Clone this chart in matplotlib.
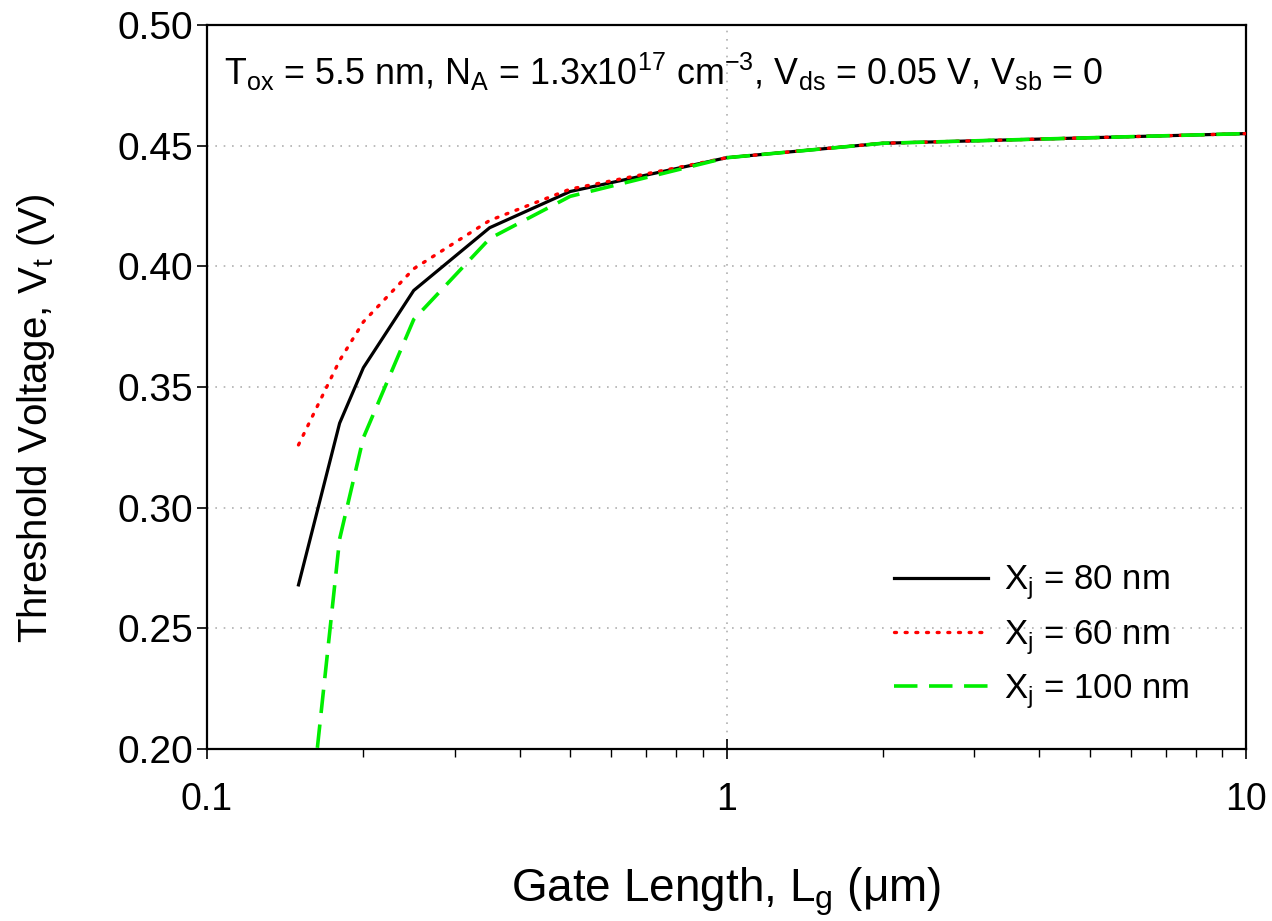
import matplotlib
matplotlib.use("Agg")
import matplotlib.pyplot as plt
from matplotlib.ticker import LogLocator, FixedLocator, NullFormatter, FixedFormatter

plt.rcParams['font.family'] = ['Liberation Sans', 'DejaVu Sans']
plt.rcParams['mathtext.default'] = 'regular'

# Data
gate_length = [0.15, 0.18, 0.2, 0.25, 0.35, 0.5, 1, 2, 10]
vt_xj80 = [0.268, 0.335, 0.358, 0.390, 0.416, 0.431, 0.445, 0.451, 0.455]
vt_xj60 = [0.326, 0.361, 0.377, 0.399, 0.419, 0.432, 0.445, 0.451, 0.455]
vt_xj100 = [0.127, 0.287, 0.329, 0.378, 0.4115, 0.429, 0.445, 0.451, 0.455]
yticks = [0.20, 0.25, 0.30, 0.35, 0.40, 0.45, 0.50]
ytick_labels = ["0.20", "0.25", "0.30", "0.35", "0.40", "0.45", "0.50"]
xticks = [0.1, 1, 10]
xtick_labels = ["0.1", "1", "10"]

fig = plt.figure(figsize=(12.72, 9.21), dpi=100)
ax = fig.add_axes([207/1272, 1 - 749/921, (1246-207)/1272, (749-25)/921])

ax.plot(gate_length, vt_xj80, color='black', lw=2.3, label=r'X$_j$ = 80 nm', zorder=3)
ax.plot(gate_length, vt_xj60, color='red', lw=2.4, linestyle=(0, (0.6, 2.6)),
        dash_capstyle='round', label=r'X$_j$ = 60 nm', zorder=4)
ax.plot(gate_length, vt_xj100, color='#00ee00', lw=2.6, linestyle=(0, (6.5, 3.2)),
        label=r'X$_j$ = 100 nm', zorder=5)

ax.set_xscale('log')
ax.set_xlim(0.1, 10)
ax.set_ylim(0.20, 0.50)

ax.xaxis.set_major_locator(FixedLocator(xticks))
ax.xaxis.set_major_formatter(FixedFormatter(xtick_labels))
ax.xaxis.set_minor_locator(LogLocator(base=10, subs=range(2, 10)))
ax.xaxis.set_minor_formatter(NullFormatter())
ax.set_yticks(yticks)
ax.set_yticklabels(ytick_labels)

ax.tick_params(axis='x', which='major', direction='inout', length=14, width=1.2, pad=17, labelsize=27)
ax.tick_params(axis='x', which='minor', direction='out', length=6, width=1.0)
ax.tick_params(axis='y', which='major', direction='out', length=7, width=1.2, pad=3, labelsize=28)

for s in ax.spines.values():
    s.set_linewidth(1.6)

for y in yticks[1:-1]:
    ax.axhline(y, color='#b0b0b0', lw=1.2, linestyle=(0, (1, 4)), zorder=1)
ax.axvline(1, color='#b0b0b0', lw=1.2, linestyle=(0, (1, 4)), zorder=1)

ax.set_xlabel(r'Gate Length, L$_g$ ($\mu$m)', fontsize=33, labelpad=34)
ax.set_ylabel(r'Threshold Voltage, V$_t$ (V)', fontsize=29)
ax.yaxis.set_label_coords(-0.144, 0.457)

ax.text(0.016, 0.935, r'T$_{ox}$ = 5.5 nm, N$_A$ = 1.3x10$^{17}$ cm$^{-3}$, V$_{ds}$ = 0.05 V, V$_{sb}$ = 0',
        transform=ax.transAxes, fontsize=25.8, va='center', ha='left')

leg = ax.legend(loc='lower right', bbox_to_anchor=(0.975, 0.009), frameon=False, fontsize=25,
                handlelength=2.7, labelspacing=0.45, handletextpad=0.45)

fig.savefig('out.png', dpi=100)
